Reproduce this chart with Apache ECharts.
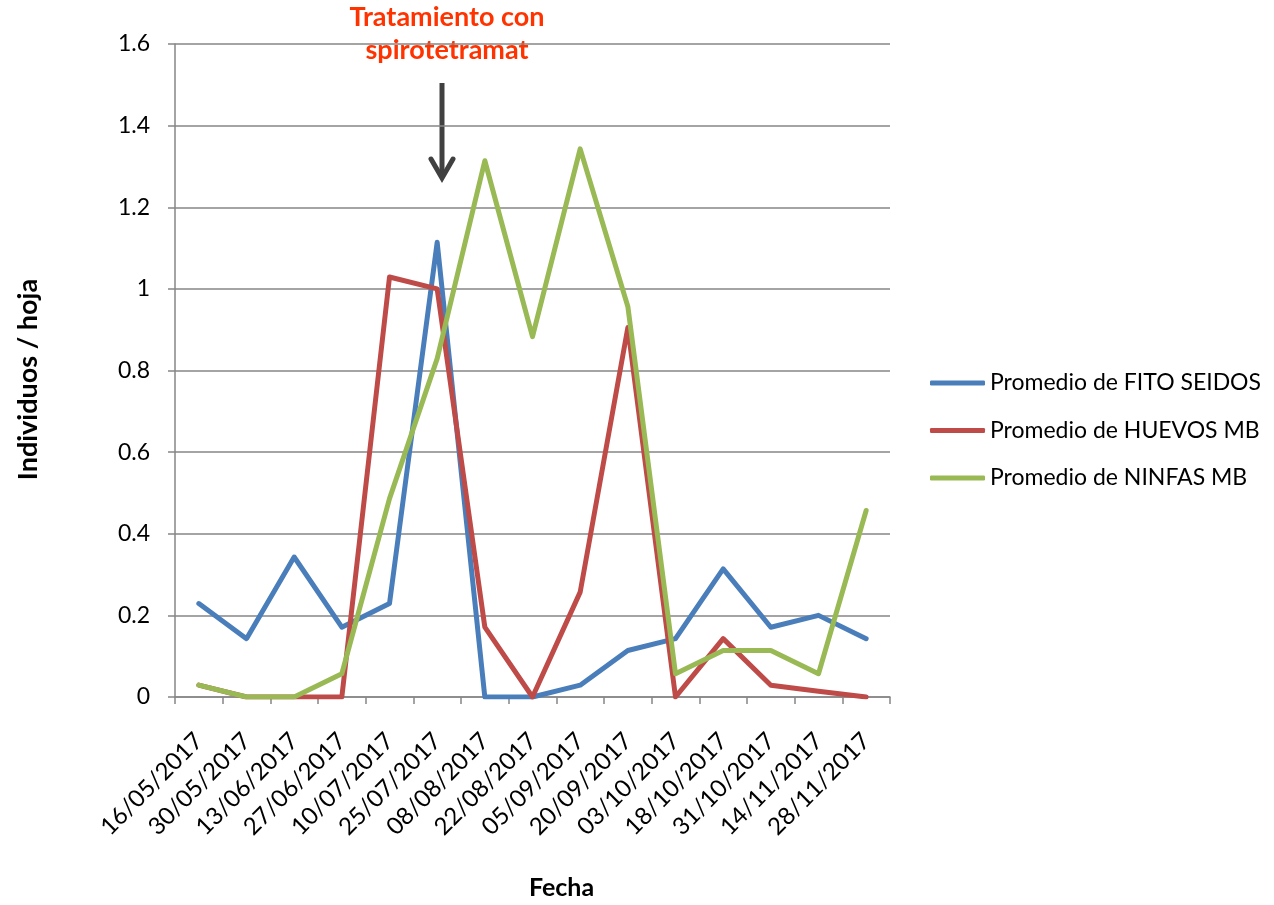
<!DOCTYPE html>
<html><head><meta charset="utf-8">
<script src="https://cdn.jsdelivr.net/npm/echarts@6/dist/echarts.min.js"></script>
<style>html,body{margin:0;padding:0;background:#fff}#c{width:1274px;height:905px}</style>
</head><body><div id="c"></div>
<script>
const categories = ['16/05/2017','30/05/2017','13/06/2017','27/06/2017','10/07/2017','25/07/2017','08/08/2017','22/08/2017','05/09/2017','20/09/2017','03/10/2017','18/10/2017','31/10/2017','14/11/2017','28/11/2017'];
const fitoSeidos = [0.229,0.143,0.343,0.171,0.229,1.114,0,0,0.029,0.114,0.143,0.314,0.171,0.2,0.143];
const huevosMB  = [0.029,0,0,0,1.029,1.0,0.171,0,0.257,0.905,0,0.143,0.029,0.014,0];
const ninfasMB  = [0.029,0,0,0.057,0.486,0.829,1.314,0.883,1.343,0.957,0.057,0.114,0.114,0.057,0.457];
const yTicks = [0,0.2,0.4,0.6,0.8,1,1.2,1.4,1.6];
const seriesNames = ['Promedio de FITO SEIDOS','Promedio de HUEVOS MB','Promedio de NINFAS MB'];
const colors = ['#4A7EBB','#BE4B48','#98B954'];
const FONT = 'Lato, "Open Sans", sans-serif';

const chart = echarts.init(document.getElementById('c'));
const mk = (name, data, i) => ({
  name, type:'line', data, symbol:'none', smooth:false,
  lineStyle:{width:5, color:colors[i], cap:'round', join:'round'},
  itemStyle:{color:colors[i]}, z: 3
});
chart.setOption({
  animation:false,
  grid:{left:175, right:384, top:44, bottom:205},
  legend:{
    orient:'vertical', left:930, top:371, padding:0, itemGap:23.5, itemWidth:55, itemHeight:5,
    icon:'roundRect',
    textStyle:{fontFamily:FONT, fontSize:23, lineHeight:24, color:'#000'},
    data:seriesNames
  },
  xAxis:{
    type:'category', data:categories, boundaryGap:true,
    name:'Fecha', nameLocation:'middle', nameGap:178,
    nameTextStyle:{fontFamily:FONT, fontSize:25, fontWeight:'bold', color:'#000', padding:[0,0,0,58]},
    axisLine:{lineStyle:{color:'#868686', width:1.5}},
    axisTick:{show:true, interval:0, length:7, lineStyle:{color:'#868686', width:1.5}},
    axisLabel:{interval:0, rotate:45, fontFamily:FONT, fontSize:24, color:'#000', margin:40}
  },
  yAxis:{
    type:'value', min:0, max:1.6, interval:0.2,
    name:'Individuos / hoja', nameLocation:'middle', nameGap:133, nameRotate:90,
    nameTextStyle:{fontFamily:FONT, fontSize:27, fontWeight:'bold', color:'#000', padding:[0,18,0,0]},
    axisLine:{show:true, lineStyle:{color:'#868686', width:1.5}},
    axisTick:{show:true, length:7, lineStyle:{color:'#868686', width:1.5}},
    splitLine:{lineStyle:{color:'#868686', width:1.5}},
    axisLabel:{fontFamily:FONT, fontSize:23, color:'#000', margin:25,
      formatter:v=>{const t=yTicks.find(x=>Math.abs(x-v)<1e-6);return t===undefined?'':String(t);}}
  },
  graphic:[
    {type:'text', x:447, y:1, style:{text:'Tratamiento con\nspirotetramat', textAlign:'center', textVerticalAlign:'top',
      fontFamily:FONT, fontSize:27, fontWeight:'bold', fill:'#FF3300', lineHeight:33}},
    {type:'line', shape:{x1:442, y1:83, x2:442, y2:178}, style:{stroke:'#404040', lineWidth:5}},
    {type:'polyline', shape:{points:[[431,159],[442,178],[453,159]]}, style:{stroke:'#404040', lineWidth:5, fill:null, lineCap:'round', lineJoin:'miter'}}
  ],
  series:[mk(seriesNames[0], fitoSeidos, 0), mk(seriesNames[1], huevosMB, 1), mk(seriesNames[2], ninfasMB, 2)]
});
</script></body></html>
